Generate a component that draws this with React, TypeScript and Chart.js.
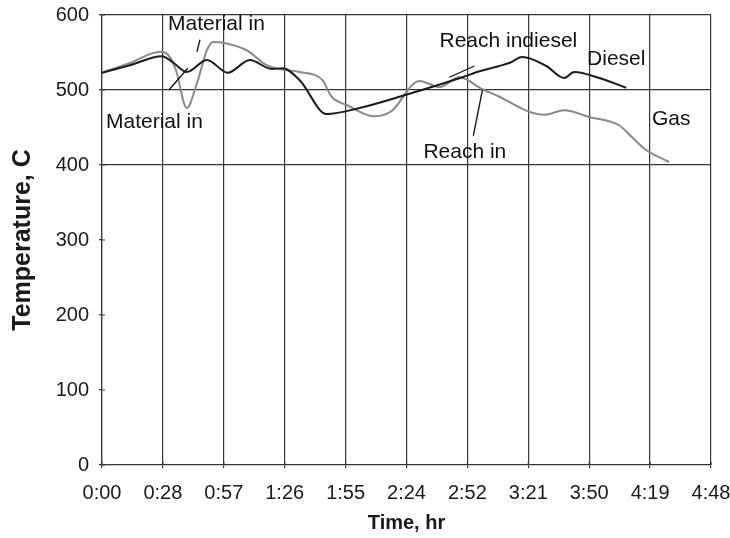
import React, { useEffect, useRef } from "react";
import { Chart, registerables } from "chart.js";

Chart.register(...registerables);

// Time in minutes, temperature in °C
const DIESEL_T = [0, 13.2, 28.3, 33.5, 40.1, 49.6, 59.5, 69.9, 80.3, 85.4, 93.5, 106.2, 121.8, 143, 170.4, 178.5, 187.9, 192.6, 198.8, 210.1, 218.6, 223.3, 235.1, 247.9];
const DIESEL_V = [523, 533, 545, 537, 524, 540, 523, 540, 528, 529, 513, 468, 476, 493, 517, 525, 532, 536, 544, 532, 516, 524, 516, 503];

const GAS_T = [0, 13.2, 27.4, 31.2, 34.9, 40.1, 44.9, 49.6, 52.4, 57.1, 68.4, 77.9, 84, 93.5, 104.3, 108.6, 115.7, 128.9, 137.4, 146.8, 150.1, 159.6, 169, 179.9, 187.9, 202, 209.2, 218.6, 230.4, 244.5, 250.7, 257.3, 268.2];
const GAS_V = [523, 536, 551, 547, 527, 476, 509, 553, 564, 563, 553, 533, 528, 524, 513, 491, 480, 465, 473, 507, 512, 504, 517, 501, 491, 471, 467, 473, 464, 453, 437, 420, 404];

// Annotation pointer lines (start/end in data coords)
const POINTER_T = [[44.9, 46.3], [31.6, 40.6], [164.3, 176.1], [179.9, 175.6]];
const POINTER_V = [[551, 567], [500, 529], [517, 532], [500, 439]];

const LABEL_TEXT = ["Material in", "Material in", "Reach indiesel", "Reach in", "Diesel", "Gas"];
const LABEL_T = [31.2, 1.9, 159.6, 152, 229.4, 260.1];
const LABEL_V = [588, 457, 565, 417, 541, 461];

const X_TICKS = [0, 28.8, 57.6, 86.4, 115.2, 144, 172.8, 201.6, 230.4, 259.2, 288];
const X_TICK_LABELS = ["0:00", "0:28", "0:57", "1:26", "1:55", "2:24", "2:52", "3:21", "3:50", "4:19", "4:48"];
const Y_TICKS = [0, 100, 200, 300, 400, 500, 600];

const FONT = "'Liberation Sans', Arial, Helvetica, sans-serif";
const GRID = "#363636";

const toPts = (t: number[], v: number[]) => t.map((x, i) => ({ x, y: v[i] }));

const extrasPlugin = {
  id: "extras",
  afterDraw(chart: any) {
    const { ctx } = chart;
    const xs = chart.scales.x;
    const ys = chart.scales.y;
    ctx.save();
    ctx.strokeStyle = GRID;
    ctx.lineWidth = 1.2;
    ctx.beginPath();
    X_TICKS.forEach((t) => {
      const px = xs.getPixelForValue(t);
      ctx.moveTo(px, ys.bottom);
      ctx.lineTo(px, ys.bottom - 3);
    });
    Y_TICKS.forEach((v) => {
      const py = ys.getPixelForValue(v);
      ctx.moveTo(xs.left, py);
      ctx.lineTo(xs.left + 3, py);
    });
    ctx.stroke();
    ctx.fillStyle = "#111";
    ctx.font = `21px ${FONT}`;
    ctx.textAlign = "left";
    ctx.textBaseline = "middle";
    LABEL_TEXT.forEach((txt, i) => {
      ctx.fillText(txt, xs.getPixelForValue(LABEL_T[i]), ys.getPixelForValue(LABEL_V[i]));
    });
    ctx.restore();
  },
};

export default function App() {
  const ref = useRef<HTMLCanvasElement | null>(null);
  useEffect(() => {
    if (!ref.current) return;
    const pointerSets = POINTER_T.map((t, i) => ({
      label: "pointer" + i,
      data: toPts(t, POINTER_V[i]),
      borderColor: "#111",
      borderWidth: 1.3,
      pointRadius: 0,
      tension: 0,
    }));
    const chart = new Chart(ref.current, {
      type: "line",
      data: {
        datasets: [
          {
            label: "Diesel",
            data: toPts(DIESEL_T, DIESEL_V),
            borderColor: "#1c1c1c",
            borderWidth: 2,
            pointRadius: 0,
            cubicInterpolationMode: "monotone",
          },
          ...pointerSets,
          {
            label: "Gas",
            data: toPts(GAS_T, GAS_V),
            borderColor: "#8a8a8a",
            borderWidth: 2,
            pointRadius: 0,
            cubicInterpolationMode: "monotone",
          },
        ],
      },
      options: {
        responsive: false,
        animation: false,
        events: [],
        layout: { padding: { top: 15, right: 19, left: 0, bottom: 0 } },
        plugins: { legend: { display: false }, tooltip: { enabled: false } },
        scales: {
          x: {
            type: "linear",
            min: 0,
            max: 288,
            afterFit: (s: any) => {
              s.height = 73;
              s.paddingLeft = 0;
              s.paddingRight = 0;
            },
            afterBuildTicks: (s: any) => {
              s.ticks = X_TICKS.map((value) => ({ value }));
            },
            ticks: {
              color: "#1a1a1a",
              font: { family: FONT, size: 20 },
              padding: 13,
              maxRotation: 0,
              autoSkip: false,
              callback: (_v: any, i: number) => X_TICK_LABELS[i],
            },
            grid: { color: GRID, lineWidth: 1.2, tickLength: 3, tickColor: GRID },
            border: { color: GRID, width: 1.2 },
            title: {
              display: true,
              text: "Time, hr",
              color: "#1a1a1a",
              font: { family: FONT, size: 20, weight: "bold" },
              padding: { top: 0, bottom: 3 },
            },
          },
          y: {
            min: 0,
            max: 600,
            afterFit: (s: any) => {
              s.width = 102;
              s.paddingTop = 0;
              s.paddingBottom = 0;
            },
            afterBuildTicks: (s: any) => {
              s.ticks = Y_TICKS.map((value) => ({ value }));
            },
            ticks: {
              color: "#1a1a1a",
              font: { family: FONT, size: 20 },
              padding: 10,
            },
            grid: {
              color: (c: any) => (c.tick && c.tick.value >= 400 ? GRID : "rgba(0,0,0,0)"),
              lineWidth: 1.2,
              tickLength: 3,
              tickColor: GRID,
            },
            border: { color: GRID, width: 1.2 },
            title: {
              display: true,
              text: "Temperature, C",
              color: "#1a1a1a",
              font: { family: FONT, size: 25, weight: "bold" },
              padding: { top: 8, bottom: 0 },
            },
          },
        },
      },
      plugins: [extrasPlugin],
    } as any);
    return () => chart.destroy();
  }, []);
  return (
    <div style={{ position: "fixed", left: 0, top: 0, width: 730, height: 538, background: "#fff" }}>
      <canvas ref={ref} width={730} height={538} style={{ display: "block" }} />
    </div>
  );
}
